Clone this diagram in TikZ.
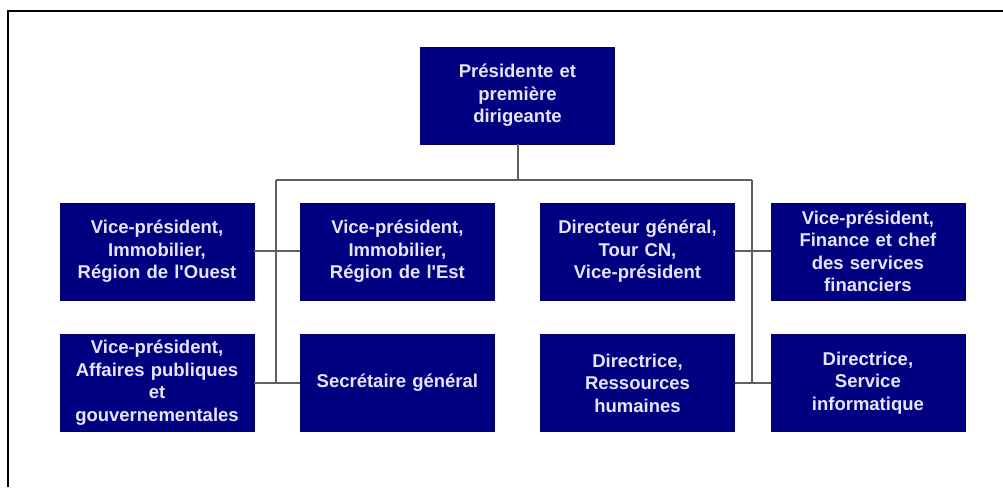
\documentclass[tikz,border=0pt]{standalone}
\usepackage{fontspec}
\setmainfont{Liberation Sans}
\usepackage{tikz}
\usetikzlibrary{positioning}
\definecolor{boxblue}{RGB}{0,0,128}
\definecolor{boxtext}{RGB}{228,230,252}
\definecolor{linegray}{RGB}{95,95,95}
\begin{document}
\begin{tikzpicture}[x=1pt, y=1pt, node distance=34pt]
                \tikzstyle{orgbox} = [rectangle, minimum width=194pt, minimum height=97pt, text width=184pt, inner sep=0pt, align=center, draw=boxblue!80!black, fill=boxblue, text=boxtext, font=\fontsize{18.5}{22.5}\selectfont\bfseries]
                \tikzstyle{ligne} = [draw=linegray, line width=2pt]
                \useasboundingbox (0,0) rectangle (1003,487);
                \draw [line width=2pt] (8,0) -- (8,476) -- (1003,476);
                \node (pdg) [orgbox] at (517.5,391.5) {Présidente et\\première\\dirigeante};
                \node (vpouest) [orgbox] at (157,235.5) {Vice-président,\\Immobilier,\\Région de l\textquotesingle Ouest};
                \node (vpest) [orgbox, right=46pt of vpouest] {Vice-président,\\Immobilier,\\Région de l\textquotesingle Est};
                \node (dgtour) [orgbox] at (637.5,235.5) {Directeur général,\\Tour CN,\\Vice-président};
                \node (vpfin) [orgbox, right=36pt of dgtour] {Vice-président,\\Finance et chef\\des services\\financiers};
                \node (vpaff) [orgbox, below=of vpouest] {Vice-président,\\Affaires publiques\\et\\gouvernementales};
                \node (secgen) [orgbox, below=of vpest] {Secrétaire général};
                \node (dirrh) [orgbox, below=of dgtour] {Directrice,\\Ressources\\humaines};
                \node (dirinfo) [orgbox, below=of vpfin] {Directrice,\\Service\\informatique};
                \coordinate (busg) at (276,307);
                \coordinate (busd) at (752,307);

                \draw [ligne] (pdg.south) -- (pdg.south |- busg);
                \draw [ligne] (busg) -- (busd);
                \draw [ligne] (busg) -- (busg |- vpaff.east);
                \draw [ligne] (busd) -- (busd |- dirrh.east);
                \draw [ligne] (vpouest) -- (vpest);
                \draw [ligne] (dgtour) -- (vpfin);
                \draw [ligne] (vpaff) -- (secgen);
                \draw [ligne] (dirrh) -- (dirinfo);

            \end{tikzpicture}
\end{document}
